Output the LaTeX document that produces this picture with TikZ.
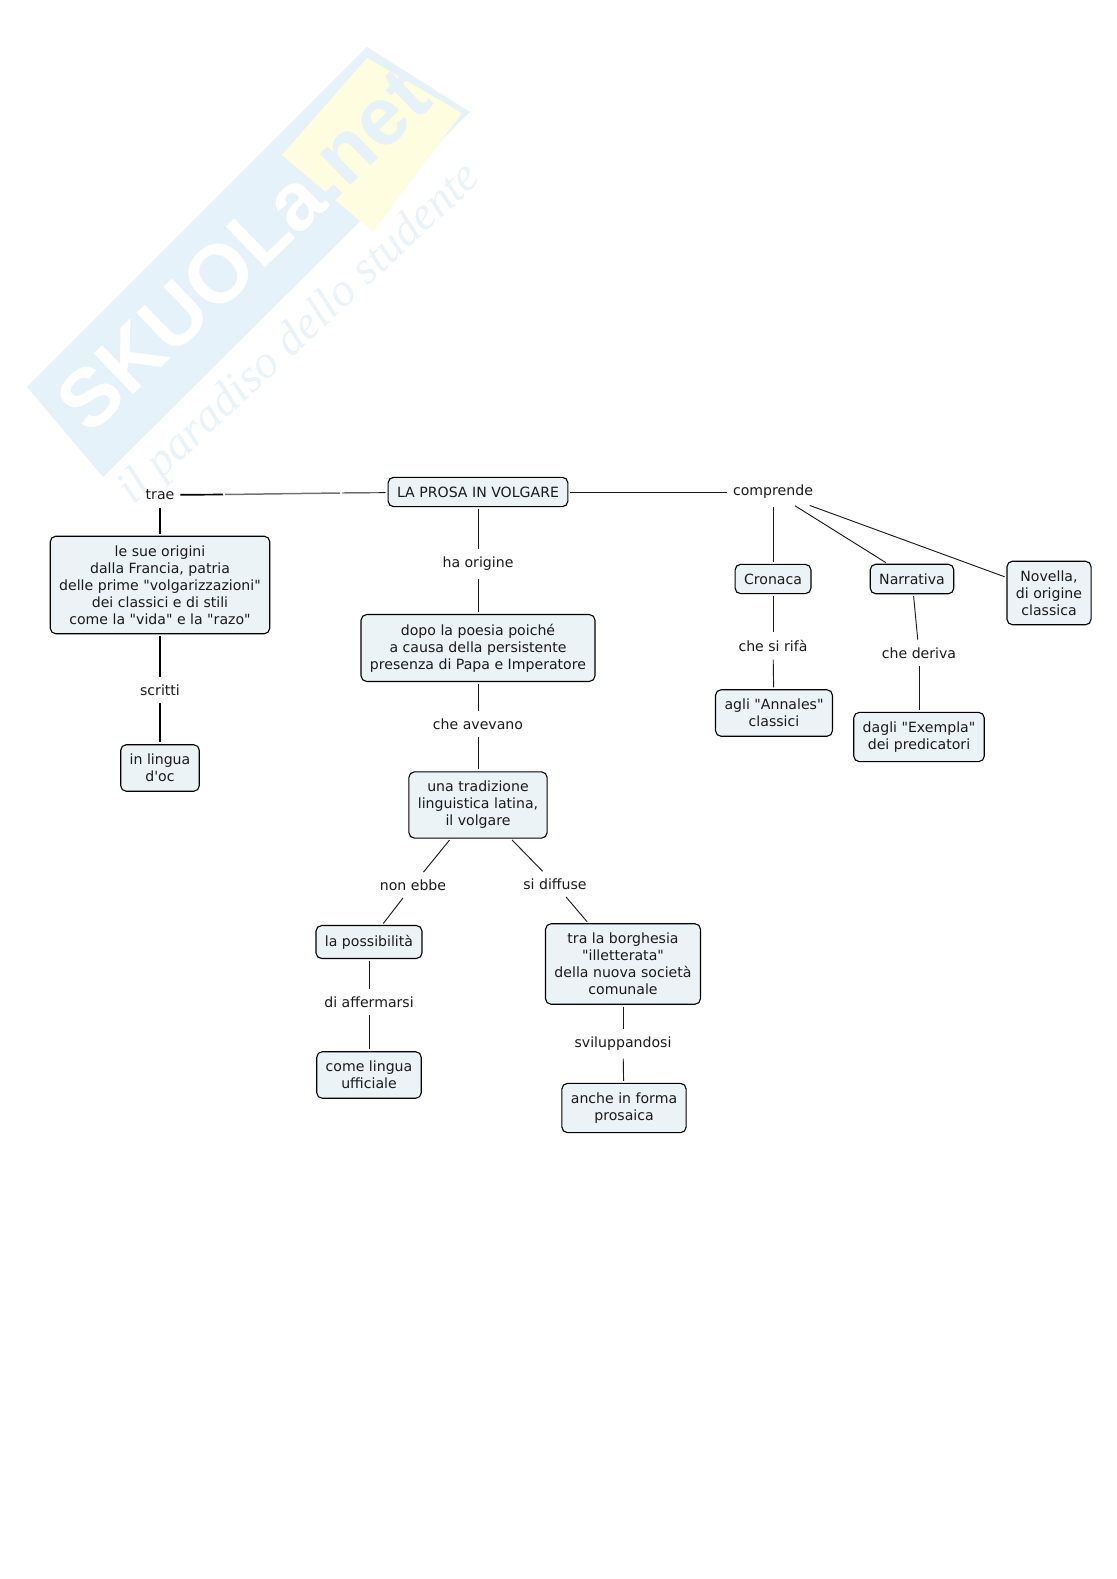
\documentclass[tikz,border=0pt]{standalone}
\usepackage{xcolor}
\usepackage{fontspec}
\setmainfont{DejaVu Sans}[Ligatures=TeXOff]
\newfontfamily\markfont{Liberation Sans}
\newfontfamily\handfont{Liberation Serif}
\usetikzlibrary{positioning}
\definecolor{boxfill}{HTML}{EBF3F7}
\definecolor{ink}{HTML}{1A1A1A}
\definecolor{wmblue}{HTML}{E6F2F9}
\definecolor{wmyellow}{HTML}{FFFDE0}
\definecolor{wmtext}{HTML}{E9F3F9}
\tikzset{
  concept/.style={draw=black,fill=boxfill,rounded corners=3pt,align=center,line width=.6pt,
    font=\fontsize{7.55}{9.1}\selectfont,text=ink,inner xsep=4.8pt,inner ysep=5pt},
  linkword/.style={align=center,font=\fontsize{7.55}{9.1}\selectfont,text=ink,inner xsep=2pt,inner ysep=3pt},
  linkline/.style={draw=ink,line width=.5pt,shorten <=1pt,shorten >=1pt},
  heavyline/.style={linkline,draw=black,line width=.9pt}
}
\begin{document}
\begin{tikzpicture}[x=.018817cm,y=-.018817cm]
\useasboundingbox (0,0) rectangle (1116,1579);

% ---------- watermark ----------
\fill[wmblue] (27,387) -- (367,47) -- (470,112) -- (103,477) -- cycle;
\fill[wmyellow] (282,155) -- (367,58) -- (462,113) -- (373,232) -- cycle;
\node[rotate=44,text=white,font=\markfont\bfseries\fontsize{44}{44}\selectfont,inner sep=0pt] (wmlogo) at (243,250)
  {SKUOLa\textcolor{wmblue}{.net}};
\node[rotate=43,text=wmtext,font=\handfont\itshape\fontsize{25}{25}\selectfont,inner sep=0pt] (wmmotto) at (300,335)
  {il paradiso dello studente};

% ---------- centre column ----------
\node[concept] (root) at (478,492) {LA PROSA IN VOLGARE};
\node[linkword] (haorigine) at (478,564) {ha origine};
\node[concept] (dopo) at (478,648) {dopo la poesia poiché\\a causa della persistente\\presenza di Papa e Imperatore};
\node[linkword] (avevano) at (478,724) {che avevano};
\node[concept] (tradizione) at (478,805) {una tradizione\\linguistica latina,\\il volgare};
\node[linkword] (nonebbe) at (413,885) {non ebbe};
\node[linkword] (diffuse) at (555,884) {si diffuse};
\node[concept] (possibilita) at (369,942) {la possibilità};
\node[linkword] (affermarsi) at (369,1002) {di affermarsi};
\node[concept] (ufficiale) at (369,1075) {come lingua\\ufficiale};
\node[concept] (borghesia) at (623,964) {tra la borghesia\\"illetterata"\\della nuova società\\comunale};
\node[linkword] (sviluppo) at (623,1044) {sviluppandosi};
\node[concept] (prosaica) at (624,1108) {anche in forma\\prosaica};

% ---------- left branch ----------
\node[linkword] (trae) at (160,495) {trae};
\coordinate (traeblack) at (225,494.5);
\coordinate (traegrey) at (340,493);
\node[concept] (origini) at (160,585) {le sue origini\\dalla Francia, patria\\delle prime "volgarizzazioni"\\dei classici e di stili\\come la "vida" e la "razo"};
\node[linkword] (scritti) at (160,690) {scritti};
\node[concept] (oc) at (160,768) {in lingua\\d'oc};

% ---------- right branch ----------
\node[linkword] (comprende) at (773,492) {comprende};
\node[concept] (cronaca) at (773,579) {Cronaca};
\node[concept] (narrativa) at (912,579) {Narrativa};
\node[concept] (novella) at (1049,593) {Novella,\\di origine\\classica};
\node[linkword] (rifa) at (773,646) {che si rifà};
\node[concept] (annales) at (774,713) {agli "Annales"\\classici};
\node[linkword] (deriva) at (919,653) {che deriva};
\node[concept] (exempla) at (919,737) {dagli "Exempla"\\dei predicatori};

% ---------- connectors ----------
\foreach \a/\b in {root/haorigine,haorigine/dopo,dopo/avevano,avevano/tradizione,
                   tradizione/nonebbe,nonebbe/possibilita,tradizione/diffuse,diffuse/borghesia,
                   possibilita/affermarsi,affermarsi/ufficiale,borghesia/sviluppo,sviluppo/prosaica,
                   root/comprende,comprende/cronaca,comprende/narrativa,comprende/novella,
                   cronaca/rifa,rifa/annales,narrativa/deriva,deriva/exempla,root/traegrey}
  \draw[linkline] (\a) -- (\b);
\foreach \a/\b in {trae/origini,origini/scritti,scritti/oc,trae/traeblack}
  \draw[heavyline] (\a) -- (\b);
\draw[draw=black!55,line width=.8pt] (traeblack) -- (traegrey);
\end{tikzpicture}
\end{document}
